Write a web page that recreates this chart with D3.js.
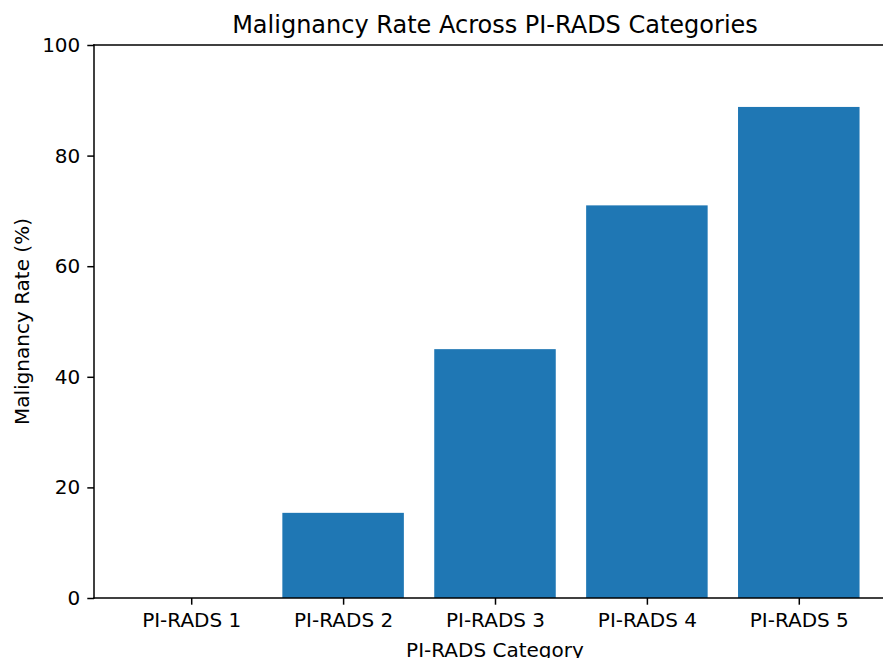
<!DOCTYPE html>
<html>
<head>
<meta charset="utf-8">
<script src="https://cdn.jsdelivr.net/npm/d3@7"></script>
<style>
  body { margin: 0; background: #fff; }
  svg text { font-family: "DejaVu Sans", sans-serif; fill: #000; }
</style>
</head>
<body>
<div id="chart"></div>
<script>
const categories = ["PI-RADS 1", "PI-RADS 2", "PI-RADS 3", "PI-RADS 4", "PI-RADS 5"];
const rates = [0, 15.4, 45.0, 71.0, 88.8];
const yTicks = [0, 20, 40, 60, 80, 100];

const width = 883, height = 658;
// axes box (right side runs off the picture, like the reference)
const margin = { top: 45, left: 94, bottom: 598, right: 896 };

const svg = d3.select("#chart")
  .append("svg")
  .attr("width", width)
  .attr("height", height);

const x = d3.scaleLinear()
  .domain([-0.64, categories.length - 1 + 0.64])
  .range([margin.left, margin.right]);

const y = d3.scaleLinear()
  .domain([0, 100])
  .range([margin.bottom, margin.top]);

const barW = x(0.8) - x(0);

// bars
svg.append("g")
  .selectAll("rect")
  .data(rates)
  .join("rect")
  .attr("x", (d, i) => x(i) - barW / 2)
  .attr("y", d => y(d))
  .attr("width", barW)
  .attr("height", d => y(0) - y(d))
  .style("fill", "#1f77b4");

// x axis
const xAxis = svg.append("g")
  .attr("transform", `translate(0, ${margin.bottom})`)
  .call(d3.axisBottom(x)
    .tickValues(d3.range(categories.length))
    .tickFormat(i => categories[i])
    .tickSizeOuter(0)
    .tickSize(6.7)
    .tickPadding(8));

// y axis
const yAxis = svg.append("g")
  .attr("transform", `translate(${margin.left}, 0)`)
  .call(d3.axisLeft(y)
    .tickValues(yTicks)
    .tickSizeOuter(0)
    .tickSize(6.7)
    .tickPadding(7));

[xAxis, yAxis].forEach(g => {
  g.selectAll("text").style("font-size", "20px").style("font-family", "DejaVu Sans");
  g.selectAll("line").style("stroke", "#000").style("stroke-width", 1.5);
  g.select(".domain").remove();
});

// spines: left, bottom, top
const spines = [
  [margin.left, margin.top, margin.left, margin.bottom],
  [margin.left, margin.bottom, margin.right, margin.bottom],
  [margin.left, margin.top, margin.right, margin.top]
];
svg.append("g")
  .selectAll("line")
  .data(spines)
  .join("line")
  .attr("x1", d => d[0])
  .attr("y1", d => d[1])
  .attr("x2", d => d[2])
  .attr("y2", d => d[3])
  .style("stroke", "#000")
  .style("stroke-width", 1.5)
  .style("stroke-linecap", "square");

// title
svg.append("text")
  .attr("x", (margin.left + margin.right) / 2)
  .attr("y", 33)
  .attr("text-anchor", "middle")
  .style("font-size", "24px")
  .text("Malignancy Rate Across PI-RADS Categories");

// x label
svg.append("text")
  .attr("x", (margin.left + margin.right) / 2)
  .attr("y", 657)
  .attr("text-anchor", "middle")
  .style("font-size", "20px")
  .text("PI-RADS Category");

// y label
svg.append("text")
  .attr("transform", `translate(29, ${(margin.top + margin.bottom) / 2}) rotate(-90)`)
  .attr("text-anchor", "middle")
  .style("font-size", "20px")
  .text("Malignancy Rate (%)");
</script>
</body>
</html>
